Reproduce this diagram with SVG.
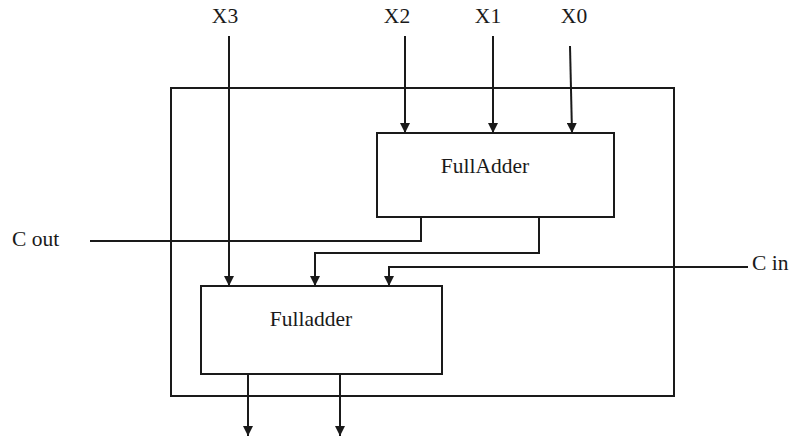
<svg xmlns="http://www.w3.org/2000/svg" width="791" height="439" viewBox="0 0 791 439">
  <style>
    .wire { fill: none; stroke: #1a1a1a; stroke-width: 2; }
    .box { fill: #ffffff; stroke: #1a1a1a; stroke-width: 2; }
    .lbl { font-family: "Liberation Serif", "Times New Roman", serif; font-size: 21.5px; fill: #1a1a1a; }
  </style>
  <defs>
    <marker id="arrow" markerWidth="10" markerHeight="10" refX="10" refY="5" orient="auto" markerUnits="userSpaceOnUse">
      <path d="M0,0 L10,5 L0,10 Z" fill="#1a1a1a"/>
    </marker>
  </defs>

  <rect width="791" height="439" fill="#ffffff"/>

  <!-- enclosing module -->
  <g id="module">
    <rect class="box" x="171" y="88" width="503" height="308" fill="none"/>
  </g>

  <!-- upper adder -->
  <g id="fa-upper">
    <rect class="box" x="377" y="133" width="237" height="84"/>
    <text class="lbl" x="485" y="173" text-anchor="middle">FullAdder</text>
  </g>

  <!-- lower adder -->
  <g id="fa-lower">
    <rect class="box" x="201" y="286" width="241" height="88"/>
    <text class="lbl" x="311" y="326" text-anchor="middle">Fulladder</text>
  </g>

  <!-- port labels -->
  <g id="ports">
    <text class="lbl" x="225" y="23" text-anchor="middle">X3</text>
    <text class="lbl" x="397" y="23" text-anchor="middle">X2</text>
    <text class="lbl" x="488" y="23" text-anchor="middle">X1</text>
    <text class="lbl" x="574" y="23" text-anchor="middle">X0</text>
    <text class="lbl" x="12" y="246">C out</text>
    <text class="lbl" x="752" y="270">C in</text>
  </g>

  <!-- connectors -->
  <g id="connectors">
    <path class="wire" d="M229,36 V286" marker-end="url(#arrow)"/>
    <path class="wire" d="M405,36 V133" marker-end="url(#arrow)"/>
    <path class="wire" d="M493,36 V133" marker-end="url(#arrow)"/>
    <path class="wire" d="M570,46 L572,133" marker-end="url(#arrow)"/>
    <path class="wire" d="M421,217 V241 H90"/>
    <path class="wire" d="M539,217 V253 H315 V286" marker-end="url(#arrow)"/>
    <path class="wire" d="M748,267 H389 V286" marker-end="url(#arrow)"/>
    <path class="wire" d="M248,374 V436" marker-end="url(#arrow)"/>
    <path class="wire" d="M340,374 V436" marker-end="url(#arrow)"/>
  </g>
</svg>
